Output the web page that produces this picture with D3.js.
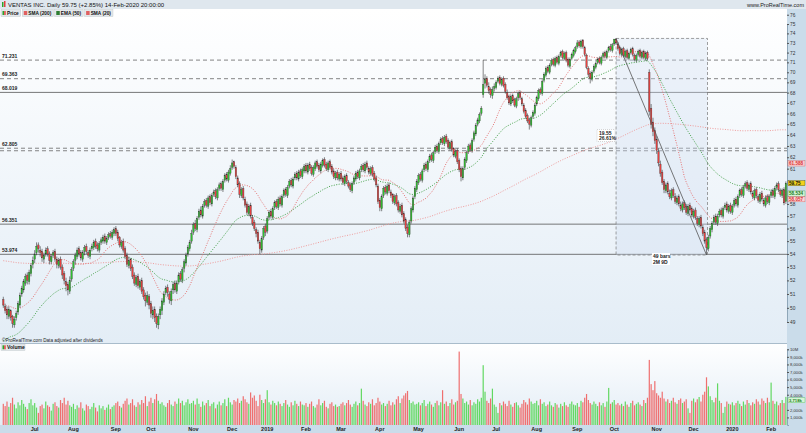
<!DOCTYPE html>
<html><head><meta charset="utf-8">
<script src="https://cdn.jsdelivr.net/npm/d3@7"></script>
<style>
body{margin:0;background:#fff;}
svg{display:block;}
text{font-family:"Liberation Sans",Arial,sans-serif;}
</style>
</head><body>
<svg id="c" width="806" height="433"></svg>
<script>
// ---------------- DATA ----------------
const startDate = "2018-06-07", endDate = "2020-02-14";
const holidays = ["2018-07-04","2018-09-03","2018-11-22","2018-12-05","2018-12-25","2019-01-01","2019-01-21","2019-02-18","2019-04-19","2019-05-27","2019-07-04","2019-09-02","2019-11-28","2019-12-25","2020-01-01","2020-01-20"];

const closes = [
50.2,49.8,49.5,49.9,49.3,48.9,49.2,49.6,50.3,50.9,51.4,51.9,52.3,52.0,52.6,53.1,53.5,
54.0,54.6,54.4,54.1,53.7,53.9,54.3,54.0,53.5,53.8,54.1,53.6,53.2,53.5,53.0,52.4,52.0,51.6,51.3,52.0,
52.8,53.4,53.9,54.3,54.0,53.7,54.1,54.5,54.2,53.9,54.3,54.6,54.9,54.6,54.4,54.8,55.1,55.3,55.0,55.2,55.5,55.4,55.7,
55.9,55.6,55.2,54.7,54.9,54.3,53.8,53.2,53.5,52.9,52.3,51.8,52.2,51.6,51.9,51.2,50.8,50.5,50.9,
50.2,49.6,49.8,49.3,48.9,49.4,49.9,50.5,51.0,51.4,51.1,50.6,51.2,51.7,51.3,51.8,52.4,52.1,52.8,53.4,53.9,54.5,54.9,
55.6,56.3,56.0,56.8,57.4,57.1,57.8,58.2,57.9,58.5,58.1,58.7,59.0,58.6,59.2,59.6,59.3,59.9,60.4,60.1,60.7,
61.0,61.5,61.2,60.3,59.6,58.8,59.2,58.5,57.9,57.3,57.8,57.0,56.4,56.0,55.6,55.0,54.4,55.2,56.0,
55.7,56.8,57.3,57.0,57.6,58.1,57.8,58.4,58.0,58.6,59.1,58.8,59.4,59.9,59.6,60.1,60.5,60.2,60.7,60.4,60.9,
61.2,60.8,61.3,61.0,60.6,61.1,61.5,61.2,60.9,61.4,61.7,61.3,61.0,61.5,61.1,60.7,60.3,60.6,60.2,
60.5,60.1,59.8,60.3,59.9,59.5,59.2,59.7,60.2,60.6,60.3,60.8,61.2,60.9,61.4,61.1,60.7,61.0,60.5,60.1,59.6,
58.2,57.7,58.6,59.3,59.0,59.5,59.1,58.7,58.2,58.6,58.0,57.5,57.8,57.1,56.6,56.0,55.6,56.5,57.6,58.5,59.3,
59.9,60.4,60.1,60.8,61.3,61.0,61.6,62.1,61.8,62.4,62.9,62.6,63.2,63.6,63.3,63.8,63.4,62.9,63.3,62.7,62.2,62.5,
61.6,60.9,60.3,61.0,61.8,62.4,63.0,62.7,63.5,64.2,64.9,65.4,65.9,66.5,68.8,69.3,68.7,68.2,67.8,68.3,
68.6,69.0,69.4,68.9,69.3,68.7,68.1,67.5,67.0,67.6,67.2,66.8,67.4,67.9,67.5,66.9,66.2,65.7,65.3,65.0,65.6,66.1,
66.8,67.5,68.2,68.0,69.1,69.8,70.4,70.1,70.7,71.2,70.8,71.4,71.0,71.6,72.0,71.5,71.9,71.2,70.7,71.3,71.8,72.2,
72.5,73.0,72.7,73.2,72.6,71.8,70.5,69.8,69.4,70.0,70.6,70.9,71.3,71.0,71.5,71.9,71.6,72.1,72.5,72.3,
72.8,73.4,73.0,72.4,71.9,72.3,71.7,72.1,71.5,71.9,72.3,71.8,71.3,71.7,72.1,71.6,72.0,71.5,71.9,71.4,66.2,65.0,64.3,
63.5,62.6,61.5,60.6,59.8,59.2,59.6,59.0,58.6,59.1,58.7,58.2,58.5,58.0,57.6,58.0,57.7,57.3,57.8,57.5,
57.1,57.4,56.9,56.4,56.8,56.2,55.6,55.0,54.5,55.3,56.0,56.4,56.9,56.5,57.0,57.4,57.1,57.6,57.9,57.5,57.8,
57.4,57.8,58.3,58.0,58.6,59.1,58.8,59.4,59.7,59.3,59.6,59.0,58.6,59.1,58.7,58.3,58.8,58.4,58.0,58.5,58.2,
58.6,59.0,58.7,59.3,59.6,59.2,58.8,59.1,58.09,59.75
];
const opens = [
50.6,50.1,49.9,49.4,49.8,49.4,48.8,49.3,49.7,50.2,51.0,51.3,51.8,52.4,51.9,52.5,53.2,
53.6,54.1,54.7,54.3,54.2,53.6,54.0,54.4,54.0,53.4,53.9,54.2,53.6,53.1,53.6,53.0,52.5,51.9,51.7,51.2,
52.1,52.9,53.5,53.8,54.4,54.1,53.6,54.2,54.6,54.1,53.8,54.4,54.5,55.0,54.7,54.3,54.9,55.0,55.4,54.9,55.3,55.6,55.3,
55.6,56.0,55.7,55.3,54.6,55.0,54.4,53.9,53.1,53.6,53.0,52.4,51.7,52.3,51.5,52.0,51.3,50.9,50.4,
50.8,50.3,49.5,49.9,49.4,48.8,49.5,49.8,50.4,51.1,51.5,51.0,50.5,51.3,51.8,51.2,51.9,52.5,52.0,52.9,53.3,54.0,54.4,
55.0,55.7,56.4,55.9,56.9,57.5,57.0,57.9,58.3,57.8,58.6,58.0,58.8,59.1,58.5,59.3,59.7,59.2,60.0,60.5,60.0,
60.6,61.1,61.6,61.1,60.2,59.7,58.7,59.3,58.4,58.0,57.2,57.9,56.9,56.5,55.9,55.7,54.9,54.3,55.3,
56.2,55.8,56.9,57.4,56.9,57.7,58.2,57.7,58.5,57.9,58.7,59.2,58.7,59.5,60.0,59.5,60.2,60.6,60.1,60.8,60.3,
60.8,61.3,60.7,61.4,61.1,60.5,61.0,61.6,61.3,60.8,61.3,61.8,61.4,60.9,61.6,61.2,60.8,60.2,60.7,
60.1,60.6,60.2,59.7,60.4,59.8,59.6,59.1,59.8,60.1,60.7,60.2,60.9,61.3,60.8,61.5,61.0,60.6,61.1,60.6,60.2,
59.5,58.3,57.6,58.7,59.4,58.9,59.6,59.0,58.8,58.1,58.7,58.1,57.4,57.9,57.2,56.7,56.1,55.5,56.6,57.5,58.6,
59.2,59.8,60.5,60.0,60.9,61.4,60.9,61.7,62.2,61.7,62.5,63.0,62.5,63.3,63.7,63.2,63.9,63.5,62.8,63.4,62.8,62.1,
62.6,61.7,61.0,60.2,61.1,61.7,62.5,63.1,62.6,63.6,64.1,65.0,65.3,66.0,67.8,68.9,69.4,68.6,68.3,67.7,
68.4,68.5,69.1,69.5,68.8,69.4,68.8,68.0,67.6,66.9,67.7,67.3,66.7,67.5,68.0,67.4,66.8,66.3,65.8,65.4,64.9,65.7,
66.0,66.9,67.4,68.3,67.9,69.2,69.7,70.5,70.0,70.8,71.3,70.7,71.5,70.9,71.7,72.1,71.4,72.0,71.3,70.6,71.4,71.7,
72.1,72.6,73.1,72.6,73.3,72.5,71.7,70.4,69.9,69.3,70.1,70.5,71.0,71.4,70.9,71.6,72.0,71.5,72.2,72.6,
72.2,72.9,73.4,72.9,72.5,71.8,72.4,71.6,72.2,71.4,72.0,72.4,71.7,71.2,71.8,72.2,71.5,72.1,71.4,72.0,70.0,66.5,65.2,
64.4,63.6,62.5,61.4,60.7,59.9,59.1,59.7,58.9,58.5,59.2,58.6,58.1,58.6,57.9,57.5,58.1,57.8,57.2,57.9,
57.6,57.0,57.5,56.8,56.3,56.9,56.1,55.7,55.1,54.4,55.4,55.9,56.5,57.0,56.4,57.1,57.5,57.0,57.7,58.0,57.4,
57.9,57.3,57.9,58.4,57.9,58.7,59.2,58.7,59.5,59.8,59.2,59.7,58.9,58.5,59.2,58.6,58.2,58.9,58.3,57.9,58.6,
58.1,58.7,59.1,58.6,59.4,59.7,59.1,58.7,59.2,58.2
];
const highs = [
50.8,50.3,50.1,50.1,49.9,49.5,49.4,49.8,50.5,51.1,51.6,52.1,52.5,52.6,52.8,53.3,53.8,
54.3,54.9,54.9,54.6,54.4,54.1,54.5,54.6,54.2,54.0,54.3,54.4,53.8,53.7,53.8,53.2,52.7,52.2,51.9,52.3,
53.0,53.6,54.1,54.5,54.6,54.3,54.3,54.7,54.8,54.3,54.5,54.8,55.1,55.2,54.9,55.0,55.3,55.5,55.6,55.4,55.7,55.8,55.9,
56.1,56.2,55.9,55.4,55.1,55.2,54.6,54.1,53.8,53.7,53.2,52.6,52.4,52.5,52.1,52.2,51.5,51.1,51.2,
51.0,50.5,50.1,50.1,49.6,49.6,50.1,50.7,51.2,51.6,51.7,51.2,51.4,51.9,52.0,52.0,52.6,52.7,53.0,53.6,54.1,54.7,55.1,
55.9,56.5,56.7,57.0,57.6,57.8,58.0,58.4,58.5,58.7,58.8,58.9,59.2,59.3,59.4,59.8,59.9,60.1,60.6,60.7,60.9,
61.3,61.8,61.7,61.3,60.4,59.9,59.4,59.5,58.6,58.2,58.0,58.1,57.1,56.7,56.1,55.9,55.1,55.4,56.2,
56.4,57.0,57.5,57.6,57.8,58.3,58.4,58.6,58.7,58.8,59.3,59.4,59.6,60.1,60.2,60.3,60.7,60.8,60.9,61.0,61.1,
61.4,61.5,61.5,61.6,61.3,61.3,61.7,61.8,61.5,61.6,61.9,62.0,61.6,61.7,61.8,61.4,61.0,60.8,60.9,
60.7,60.8,60.4,60.5,60.6,60.0,59.8,59.9,60.4,60.8,60.9,61.0,61.4,61.5,61.6,61.7,61.2,61.2,61.3,60.8,60.4,
59.7,58.5,58.8,59.5,59.6,59.7,59.8,59.2,58.9,58.8,58.9,58.3,58.0,58.1,57.4,56.9,56.3,56.7,57.8,58.7,59.5,
60.1,60.6,60.7,61.0,61.5,61.6,61.8,62.3,62.4,62.6,63.1,63.2,63.4,63.8,63.9,64.0,64.1,63.7,63.5,63.6,62.9,62.7,
62.8,61.9,61.2,61.2,62.0,62.6,63.2,63.3,63.7,64.4,65.1,65.6,66.1,66.7,71.23,69.8,69.6,69.0,68.5,68.6,
68.9,69.2,69.6,69.7,69.5,69.6,69.0,68.3,67.8,67.8,67.9,67.5,67.6,68.1,68.2,67.6,67.0,66.5,66.0,65.6,65.8,66.3,
67.0,67.7,68.4,68.5,69.3,70.0,70.6,70.7,70.9,71.4,71.5,71.6,71.7,71.8,72.2,72.3,72.1,72.2,71.5,71.5,72.0,72.4,
72.7,73.3,73.3,73.35,73.4,72.7,71.9,70.6,70.1,70.2,70.8,71.1,71.5,71.6,71.7,72.1,72.2,72.3,72.7,72.9,
73.0,73.4,73.47,73.1,72.7,72.5,72.6,72.3,72.4,72.1,72.5,72.6,71.9,71.9,72.3,72.4,72.2,72.3,72.1,72.2,70.3,66.9,65.6,
64.7,63.9,62.8,61.7,60.9,60.1,59.8,59.9,59.2,59.3,59.4,58.9,58.7,58.8,58.2,58.2,58.3,58.0,58.0,58.1,
57.8,57.6,57.7,57.0,57.0,57.1,56.3,55.9,55.3,55.5,56.2,56.6,57.1,57.2,57.2,57.6,57.7,57.8,58.1,58.2,58.0,
58.1,58.0,58.5,58.6,58.8,59.3,59.4,59.6,59.9,60.0,59.8,59.9,59.1,59.3,59.4,58.8,59.0,59.1,58.5,58.7,58.8,
58.8,59.2,59.3,59.5,59.8,59.9,59.3,59.3,59.4,59.9
];
const lows = [
50.0,49.6,49.2,49.2,49.1,48.6,48.6,49.1,49.5,50.0,50.8,51.1,51.6,51.7,51.7,52.3,52.9,
53.3,53.9,54.1,53.8,53.4,53.3,53.8,53.8,53.2,53.2,53.7,53.4,52.9,52.9,52.8,52.1,51.7,51.2,50.9,51.0,
51.9,52.7,53.2,53.6,53.8,53.5,53.4,53.9,54.0,53.7,53.6,54.2,54.3,54.4,54.2,54.1,54.7,54.8,54.8,54.7,55.1,55.2,55.1,
55.4,55.4,55.0,54.5,54.4,54.1,53.6,53.0,52.9,52.7,52.1,51.6,51.5,51.4,51.3,51.0,50.6,50.1,50.2,
49.9,49.3,49.2,49.0,48.6,48.5,49.2,49.5,50.2,50.9,50.8,50.3,50.2,51.0,51.1,51.0,51.7,51.9,51.8,52.6,53.1,53.8,54.2,
54.8,55.5,55.8,55.7,56.7,56.9,56.8,57.7,57.7,57.6,57.9,57.8,58.6,58.4,58.3,59.1,59.1,59.0,59.8,59.9,59.8,
60.4,60.9,61.0,60.1,59.4,58.5,58.5,58.3,57.7,57.1,57.0,56.8,56.2,55.8,55.3,54.8,53.97,54.1,55.1,
55.4,55.6,56.7,56.8,56.7,57.5,57.6,57.5,57.8,57.7,58.5,58.6,58.5,59.3,59.4,59.3,60.0,60.0,59.9,60.2,60.1,
60.6,60.6,60.5,60.8,60.4,60.3,60.8,61.0,60.7,60.6,61.1,61.1,60.8,60.7,60.9,60.5,60.1,60.0,60.0,
59.9,59.9,59.6,59.5,59.7,59.3,59.0,58.9,59.6,59.9,60.1,60.0,60.7,60.7,60.6,60.9,60.5,60.4,60.3,59.9,59.4,
58.0,57.4,57.4,58.5,58.8,58.7,58.9,58.5,58.0,57.9,57.8,57.3,57.2,56.9,56.4,55.8,55.3,55.3,56.4,57.3,58.4,
59.0,59.6,59.9,59.8,60.7,60.8,60.7,61.5,61.6,61.5,62.3,62.4,62.3,63.1,63.1,63.0,63.2,62.7,62.6,62.5,62.0,61.9,
61.4,60.7,59.9,60.0,60.9,61.5,62.3,62.5,62.4,63.4,63.9,64.8,65.1,65.8,67.5,68.4,68.5,67.9,67.5,67.4,
68.1,68.3,68.9,68.7,68.6,68.5,67.9,67.3,66.8,66.7,67.0,66.6,66.5,67.2,67.3,66.7,66.0,65.5,65.1,64.5,64.7,65.5,
65.8,66.7,67.2,67.8,67.7,69.0,69.5,69.9,69.8,70.6,70.6,70.5,70.8,70.7,71.5,71.3,71.2,71.0,70.5,70.4,71.2,71.5,
71.9,72.4,72.5,72.4,72.4,71.6,70.3,69.5,68.9,69.1,69.9,70.3,70.8,70.8,70.7,71.4,71.4,71.3,72.0,72.1,
72.0,72.7,72.8,72.2,71.7,71.6,71.5,71.4,71.3,71.2,71.8,71.6,71.1,71.0,71.6,71.4,71.3,71.3,71.2,71.2,65.8,64.6,63.9,
63.2,62.3,61.2,60.3,59.6,58.9,58.9,58.8,58.4,58.3,58.5,58.0,57.9,57.8,57.4,57.3,57.5,57.1,57.0,57.3,
56.9,56.8,56.7,56.2,56.1,56.0,55.4,54.8,53.92,54.2,55.2,55.7,56.3,56.3,56.2,56.9,56.9,56.8,57.5,57.3,57.2,
57.2,57.1,57.7,57.8,57.7,58.5,58.6,58.5,59.3,59.1,59.0,58.8,58.4,58.3,58.5,58.1,58.0,58.2,57.8,57.7,58.0,
57.9,58.5,58.5,58.4,59.2,59.0,58.6,58.5,57.9,58.0
];
// volume in millions
const volumes = [
2.8,2.5,3.1,2.4,2.9,3.6,2.7,2.2,3.0,2.6,3.3,2.8,2.4,2.1,2.9,3.4,2.6,
2.9,2.3,1.6,2.5,2.7,2.2,3.1,2.6,2.4,1.9,2.8,3.0,2.5,2.3,3.3,2.9,3.6,2.7,3.2,2.6,
2.4,2.8,2.1,2.6,2.3,3.0,2.2,1.9,2.7,2.5,2.1,2.4,2.9,2.3,1.8,2.6,2.2,2.5,2.0,2.3,2.7,2.1,2.4,
2.6,2.9,3.1,2.5,2.3,2.8,3.2,3.5,2.7,2.9,3.4,2.6,2.4,3.0,2.7,3.3,2.9,3.8,2.5,
3.1,3.6,2.9,3.4,4.1,3.2,2.8,3.0,2.6,2.4,2.9,3.3,2.7,2.5,3.1,2.8,3.5,2.9,3.2,2.6,3.0,3.4,2.8,
2.9,3.2,2.7,3.5,2.8,2.4,3.1,2.6,2.9,3.3,2.5,2.8,3.0,2.2,2.7,3.1,2.6,2.9,3.4,2.5,3.6,
3.0,2.7,3.3,3.1,3.5,2.9,3.2,3.8,3.4,3.0,2.8,4.3,3.6,3.9,3.2,2.5,4.0,3.3,2.9,
3.4,4.6,3.0,2.7,3.2,2.9,2.6,3.1,2.8,2.5,2.9,3.3,2.7,2.4,3.0,2.6,3.2,2.8,2.5,3.1,2.7,
2.6,2.9,2.4,2.8,3.1,2.5,2.3,2.7,3.4,2.6,2.9,3.2,2.4,2.2,2.8,3.0,2.5,2.7,2.4,
2.5,2.8,3.0,2.6,2.9,3.3,2.7,2.4,2.8,3.1,2.6,2.9,4.8,3.2,2.7,2.5,3.0,2.8,3.4,2.6,2.9,
3.6,3.1,2.7,2.9,2.5,2.8,3.2,2.6,3.0,2.7,3.4,3.8,2.9,3.5,3.9,4.2,4.5,3.3,2.9,3.1,2.7,
2.8,3.0,2.6,2.9,3.3,2.5,2.8,3.1,2.7,2.4,2.9,3.2,2.6,3.0,4.6,2.8,3.1,2.5,2.9,3.4,2.7,3.0,
3.2,9.7,4.1,3.5,2.9,3.1,2.7,3.3,2.6,3.0,2.8,3.4,3.1,3.6,7.9,4.4,3.2,2.9,3.5,4.8,
2.7,2.4,1.6,2.9,2.6,3.1,2.8,2.5,3.2,2.7,2.4,2.9,3.0,2.6,2.3,2.8,3.3,3.0,2.7,3.5,3.1,2.8,
2.9,3.2,2.6,3.4,2.8,3.0,2.5,2.7,3.1,2.6,2.4,2.9,2.7,2.3,2.8,2.5,3.0,2.6,2.4,2.8,3.1,2.7,
2.6,2.9,2.4,3.2,3.0,3.6,4.1,3.3,2.9,2.7,3.1,2.8,2.5,3.0,2.6,2.9,2.4,3.1,4.9,2.8,
3.0,3.3,2.7,2.9,2.6,2.8,2.5,3.1,2.7,2.4,2.9,3.2,2.6,2.8,3.0,2.7,2.5,3.3,2.9,3.6,8.6,5.4,4.6,
5.8,4.2,3.9,3.6,4.4,3.5,3.1,3.4,2.9,3.2,3.6,3.0,2.8,3.3,3.5,2.9,3.1,3.4,2.2,1.6,
3.2,3.5,3.0,3.4,3.7,3.1,4.0,4.4,6.3,5.1,3.8,3.3,3.0,3.6,5.5,3.2,2.9,1.6,2.4,3.1,2.8,
2.7,3.0,2.6,2.9,3.2,2.8,2.5,3.1,2.7,3.3,2.9,2.6,3.0,2.8,3.4,3.1,2.7,3.5,3.2,2.9,3.6,
3.0,5.6,3.2,2.8,3.1,2.6,2.9,3.3,2.9,3.718
];
const priceTicks = d3.range(49, 77);
const volTicks = [1,2,3,4,5,6,7,8,9,10];
const monthLabels = ["Jul","Aug","Sep","Oct","Nov","Dec","2019","Feb","Mar","Apr","May","Jun","Jul","Aug","Sep","Oct","Nov","Dec","2020","Feb"];
const levelValues = [71.231, 69.363, 68.019, 62.805, 62.58, 56.351, 53.974];
const levelLabels = ["71.231","69.363","68.019","62.805","","56.351","53.974"];
const sma200Seed = 53.5, ema50Seed = 47.6;
const titleText = "VENTAS INC. Daily 59.75 (+2.85%) 14-Feb-2020 20:00:00";
const legendItems = ["Price","SMA (200)","EMA (50)","SMA (20)"];
const lastLabels = [{v:61.588,t:"61.588"},{v:59.75,t:"59.75"},{v:58.534,t:"58.534"},{v:58.057,t:"58.057"}];
const measureText = ["19.55","26.61%"], barsText = ["49 bars","2M 9D"];
const highIdx = 332, lowIdx = 381;

// ---------------- BUILD ----------------
const hol = new Set(holidays);
const fmt = d3.timeFormat("%Y-%m-%d");
let dates = d3.timeDay.range(new Date(startDate+"T00:00"), d3.timeDay.offset(new Date(endDate+"T00:00"),1))
  .filter(d => d.getDay()!==0 && d.getDay()!==6 && !hol.has(fmt(d)));
const n = Math.min(closes.length, opens.length, highs.length, lows.length, volumes.length, dates.length);
const data = d3.range(n).map(i => ({i, date:dates[i], o:opens[i], h:highs[i], l:lows[i], c:closes[i], v:volumes[i]}));

const W=806, H=433, plotR=787, pTop=9, pBot=343, vBot=425;
const svg = d3.select("#c");
const x = d3.scaleLinear().domain([0, n-1]).range([3.3, 3.3 + (n-1)*1.8457]);
const y = d3.scaleLog().domain([49, 75]).range([322, 24]);
const yv = d3.scaleLinear().domain([0, 10]).range([425, 349.3]);

const defs = svg.append("defs");
const gr = defs.append("linearGradient").attr("id","bg").attr("x1",0).attr("y1",0).attr("x2",0).attr("y2",1);
gr.append("stop").attr("offset",0).attr("stop-color","#ffffff");
gr.append("stop").attr("offset",1).attr("stop-color","#e3edf6");
defs.append("clipPath").attr("id","clipP").append("rect").attr("x",0).attr("y",pTop).attr("width",plotR).attr("height",pBot-pTop);
defs.append("clipPath").attr("id","clipV").append("rect").attr("x",0).attr("y",pBot).attr("width",plotR).attr("height",vBot-pBot);

svg.append("rect").attr("width",W).attr("height",H).attr("fill","#ffffff");
svg.append("rect").attr("x",0).attr("y",pTop).attr("width",plotR).attr("height",pBot-pTop).attr("fill","url(#bg)");
svg.append("rect").attr("x",0).attr("y",pBot).attr("width",plotR).attr("height",vBot-pBot).attr("fill","url(#bg)");
svg.append("rect").attr("x",plotR).attr("y",pTop).attr("width",W-plotR).attr("height",H-pTop).attr("fill","#cadcea");
svg.append("rect").attr("x",0).attr("y",vBot).attr("width",W).attr("height",H-vBot).attr("fill","#cadcea");
svg.append("line").attr("x1",0).attr("x2",plotR).attr("y1",pBot+0.5).attr("y2",pBot+0.5).attr("stroke","#a9bccb").attr("stroke-width",1);

// header
svg.append("rect").attr("x",0).attr("y",0).attr("width",W).attr("height",pTop).attr("fill","#dfe7ee");
svg.append("rect").attr("x",2).attr("y",2).attr("width",1.5).attr("height",5).attr("fill","#2aa52a");
svg.append("rect").attr("x",4).attr("y",1).attr("width",1.5).attr("height",6).attr("fill","#e04040");
svg.append("text").attr("x",8).attr("y",6.8).attr("font-size",6).attr("fill","#111").text(titleText);
svg.append("text").attr("x",804).attr("y",6.8).attr("font-size",5.5).attr("text-anchor","end").attr("fill","#222").text("www.ProRealTime.com");

// horizontal levels
const lv = svg.append("g").attr("clip-path","url(#clipP)");
levelValues.forEach((v,k) => {
  const solid = (k===2 || k===5 || k===6);
  lv.append("line").attr("x1",0).attr("x2",plotR).attr("y1",y(v)).attr("y2",y(v))
    .attr("stroke", solid ? "#555" : "#666").attr("stroke-width",0.8)
    .attr("stroke-dasharray", solid ? null : "4,3");
  if (levelLabels[k]) lv.append("text").attr("x",2).attr("y",y(v)-2.5).attr("font-size",5).attr("font-weight","bold").attr("fill","#222").text(levelLabels[k]);
});

// measure box
const bx0 = x(highIdx), bx1 = x(lowIdx)+1;
svg.append("rect").attr("x",bx0).attr("y",y(73.47)).attr("width",bx1-bx0).attr("height",y(53.92)-y(73.47))
  .attr("fill","rgba(205,222,240,0.35)").attr("stroke","#777").attr("stroke-width",0.7).attr("stroke-dasharray","3,2");

// moving averages
const sma = (len, seed) => closes.slice(0,n).map((c,i) => {
  let s=0,k=0; for (let j=Math.max(0,i-len+1); j<=i; j++){ s+=closes[j]; k++; }
  return (s + (len-k)*seed)/len;
});
const sma200 = sma(200, sma200Seed);
const sma20 = sma(20, closes[0]);
const ema50 = []; { let e = ema50Seed; for (let i=0;i<n;i++){ e = e + (2/51)*(closes[i]-e); ema50.push(e);} }
const line = arr => d3.line().x((d,i)=>x(i)).y(d=>y(d))(arr);
const ma = svg.append("g").attr("clip-path","url(#clipP)");
ma.append("path").attr("d",line(sma200)).attr("fill","none").attr("stroke","#ef9a9a").attr("stroke-width",1).attr("stroke-dasharray","1,1.5");
ma.append("path").attr("d",line(ema50)).attr("fill","none").attr("stroke","#43a047").attr("stroke-width",1).attr("stroke-dasharray","1,1.5");
ma.append("path").attr("d",line(sma20)).attr("fill","none").attr("stroke","#e57373").attr("stroke-width",1).attr("stroke-dasharray","1,1.5");

// candles
const up = "#2fbf2f", dn = "#e8413f";
const cg = svg.append("g").attr("clip-path","url(#clipP)");
cg.selectAll("line.w").data(data).join("line").attr("class","w")
  .attr("x1",d=>x(d.i)).attr("x2",d=>x(d.i))
  .attr("y1",d=>y(Math.max(d.h,d.o,d.c))).attr("y2",d=>y(Math.min(d.l,d.o,d.c)))
  .attr("stroke","#333").attr("stroke-width",0.6);
cg.selectAll("rect.b").data(data).join("rect").attr("class","b")
  .attr("x",d=>x(d.i)-0.75).attr("width",1.5)
  .attr("y",d=>y(Math.max(d.o,d.c))).attr("height",d=>Math.max(0.8, y(Math.min(d.o,d.c))-y(Math.max(d.o,d.c))))
  .attr("fill",d=> d.c>=d.o ? up : dn).attr("stroke","#333").attr("stroke-width",0.3);

// trend line of measure
svg.append("line").attr("x1",x(highIdx)).attr("y1",y(73.47)).attr("x2",x(lowIdx)).attr("y2",y(53.92))
  .attr("stroke","#555").attr("stroke-width",0.8);
// measure labels
const ml = svg.append("g");
ml.append("rect").attr("x",597).attr("y",129.5).attr("width",18).attr("height",12).attr("fill","#fff").attr("stroke","#999").attr("stroke-width",0.4).attr("stroke-dasharray","1,1");
ml.append("text").attr("x",599).attr("y",134.5).attr("font-size",5).attr("font-weight","bold").attr("fill","#222").text(measureText[0]);
ml.append("text").attr("x",599).attr("y",140).attr("font-size",5).attr("font-weight","bold").attr("fill","#222").text(measureText[1]);
ml.append("rect").attr("x",652).attr("y",253).attr("width",18).attr("height",12).attr("fill","#fff");
ml.append("text").attr("x",653).attr("y",258).attr("font-size",5).attr("font-weight","bold").attr("fill","#222").text(barsText[0]);
ml.append("text").attr("x",653).attr("y",263.5).attr("font-size",5).attr("font-weight","bold").attr("fill","#222").text(barsText[1]);

// volume bars
const vg = svg.append("g").attr("clip-path","url(#clipV)");
vg.selectAll("rect").data(data).join("rect")
  .attr("x",d=>x(d.i)-0.6).attr("width",1.2)
  .attr("y",d=>yv(d.v)).attr("height",d=>yv(0)-yv(d.v))
  .attr("fill",d=> d.c>=d.o ? "#62d862" : "#ef6f6f");

// price axis (ticks hidden where value labels cover them)
const hiddenPrice = new Set([59,60]);
const ya = svg.append("g").attr("transform",`translate(${plotR},0)`)
  .call(d3.axisRight(y).tickValues(priceTicks.filter(v=>!hiddenPrice.has(v))).tickFormat(d3.format("d")).tickSize(2).tickPadding(1));
ya.select(".domain").attr("stroke","#8ea6b8");
ya.selectAll("text").attr("font-size",4.8).attr("fill","#333");
ya.selectAll("line").attr("stroke","#555");
// volume axis
const va = svg.append("g").attr("transform",`translate(${plotR},0)`)
  .call(d3.axisRight(yv).tickValues(volTicks.filter(v=>v!==3)).tickFormat(v => v>=10 ? "10M" : d3.format(",")(v*1000)+"k").tickSize(2).tickPadding(1));
va.select(".domain").attr("stroke","#8ea6b8");
va.selectAll("text").attr("font-size",4.2).attr("fill","#333");
va.selectAll("line").attr("stroke","#555");

// last value labels on price axis (stacked so that they do not collide)
const lastCol = [["#f7d0d0","#d33"],["#f2d21c","#111"],["#d6f5d6","#1a7a1a"],["#f7d8d8","#d33"]];
const labelShift = [1.5, 0, -4, -4];
lastLabels.forEach((d,k) => {
  const ly = y(d.v) + labelShift[k];
  svg.append("rect").attr("x",plotR+1).attr("y",ly-2.6).attr("width",17).attr("height",5.2).attr("fill",lastCol[k][0]).attr("stroke",lastCol[k][1]).attr("stroke-width",0.3);
  svg.append("text").attr("x",plotR+2).attr("y",ly+1.6).attr("font-size",4.6).attr("font-weight","bold").attr("fill",lastCol[k][1]).text(d.t);
});
const lastV = volumes[n-1];
const lvY = yv(lastV) + 3.4;
svg.append("rect").attr("x",plotR+1).attr("y",lvY-2.4).attr("width",17).attr("height",4.9).attr("fill","#d6f5d6").attr("stroke","#2a2").attr("stroke-width",0.3);
svg.append("text").attr("x",plotR+2).attr("y",lvY+1.6).attr("font-size",4.2).attr("font-weight","bold").attr("fill","#1a7a1a").text(d3.format(",")(Math.round(lastV*1000))+"k");

// x axis month labels
const monthStarts = data.filter(d => d.i>0 && d.date.getMonth()!==data[d.i-1].date.getMonth());
monthLabels.forEach((lab,k) => {
  const first = monthStarts[k];
  if (!first) return;
  svg.append("text").attr("x",x(first.i)).attr("y",431).attr("text-anchor","middle").attr("font-size",5.5).attr("font-weight","bold").attr("fill","#222").text(lab);
});

// legend boxes (width fitted to text)
const legCols = [null,"#e06060","#2e7d32","#e06060"];
let lx = 1;
legendItems.forEach((t,k) => {
  const g = svg.append("g");
  const bg = g.append("rect").attr("x",lx).attr("y",9.5).attr("height",7).attr("fill","#e3e7ea").attr("stroke","#b8c0c6").attr("stroke-width",0.4);
  if (k===0){
    g.append("rect").attr("x",lx+1.5).attr("y",11).attr("width",1.5).attr("height",4).attr("fill","#2aa52a");
    g.append("rect").attr("x",lx+3.2).attr("y",11).attr("width",1.5).attr("height",4).attr("fill","#e04040");
  } else {
    g.append("rect").attr("x",lx+1.5).attr("y",11).attr("width",3.5).attr("height",4).attr("fill",legCols[k]);
  }
  const tx = g.append("text").attr("x",lx+6).attr("y",15).attr("font-size",4.8).attr("font-weight","bold").attr("fill","#111").text(t);
  const w = tx.node().getComputedTextLength() + 8;
  bg.attr("width", w);
  lx += w + 1.5;
});
svg.append("text").attr("x",2).attr("y",341.5).attr("font-size",4.6).attr("fill","#222").text("©ProRealTime.com Data adjusted after dividends");
svg.append("rect").attr("x",1).attr("y",344).attr("width",24).attr("height",6.5).attr("fill","#e3e7ea").attr("stroke","#b8c0c6").attr("stroke-width",0.4);
svg.append("rect").attr("x",2.5).attr("y",345.3).attr("width",1.5).attr("height",4).attr("fill","#2aa52a");
svg.append("rect").attr("x",4.2).attr("y",345.3).attr("width",1.5).attr("height",4).attr("fill","#e04040");
svg.append("text").attr("x",7).attr("y",349).attr("font-size",5).attr("font-weight","bold").attr("fill","#111").text("Volume");
</script>
</body></html>
